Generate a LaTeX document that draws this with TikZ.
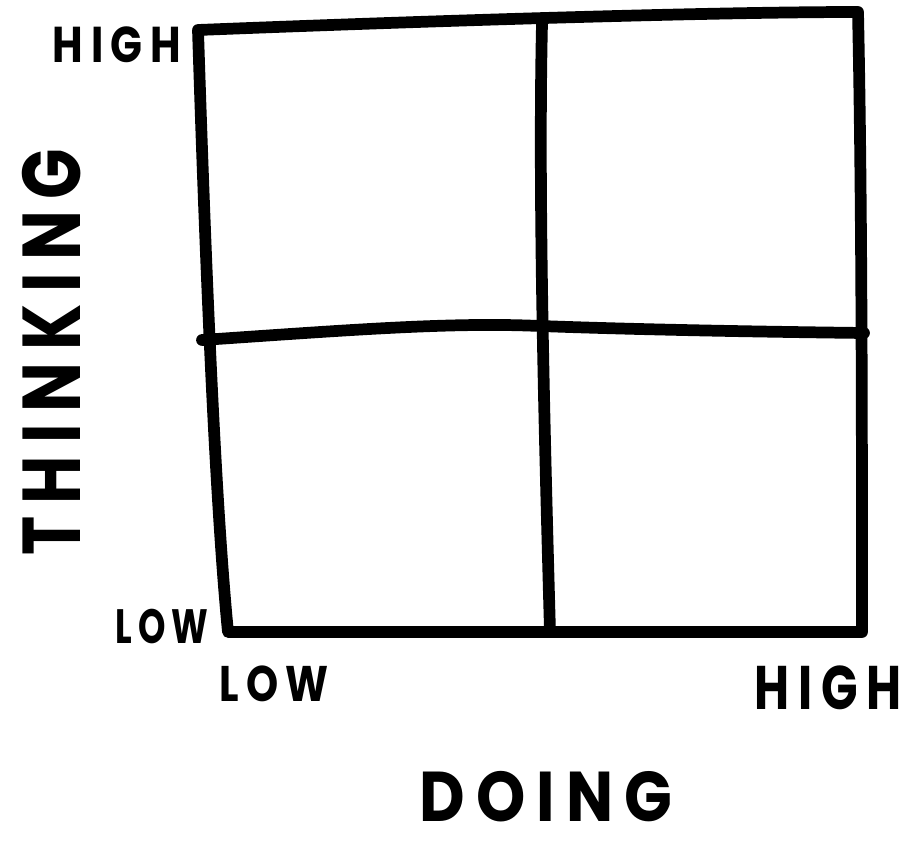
\documentclass[tikz,border=0pt]{standalone}
\usepackage{graphicx}
\usepackage{fontspec}
\setmainfont{Poppins}
\newfontfamily\handfont[LetterSpace=18]{Poppins}
\newcommand{\fitlab}[3]{\resizebox*{#1}{#2}{\handfont\bfseries #3}}
\begin{document}
\begin{tikzpicture}[x=0.75pt,y=-0.75pt,
  stroke/.style={line width=8.8pt,line cap=round,line join=round,black},
  lab/.style={inner sep=0pt}]
\useasboundingbox (0,0) rectangle (911,845);
% outer frame
\draw[stroke] (198,30) .. controls (400,22) and (700,12) .. (858,12)
  .. controls (862,200) and (862,450) .. (862,632)
  -- (228,632)
  .. controls (215,500) and (205,250) .. cycle;
% middle vertical
\draw[stroke] (542,24) .. controls (538,200) and (545,450) .. (550,632);
% middle horizontal
\draw[stroke] (202,340) .. controls (350,330) and (450,322) .. (540,326)
  .. controls (650,330) and (780,332) .. (864,333);
% labels
\node[lab] (yh) at (117,45) {\fitlab{96pt}{27pt}{HIGH}};
\node[lab] (yl) at (162,626) {\fitlab{70pt}{26pt}{LOW}};
\node[lab] (xl) at (274,684) {\fitlab{82pt}{27pt}{LOW}};
\node[lab] (xh) at (828,688) {\fitlab{110pt}{33pt}{HIGH}};
\node[lab] (xd) at (546,797) {\fitlab{190pt}{38pt}{DOING}};
\node[lab,rotate=90] (yt) at (52,352) {\fitlab{305pt}{44pt}{THINKING}};
\end{tikzpicture}
\end{document}
